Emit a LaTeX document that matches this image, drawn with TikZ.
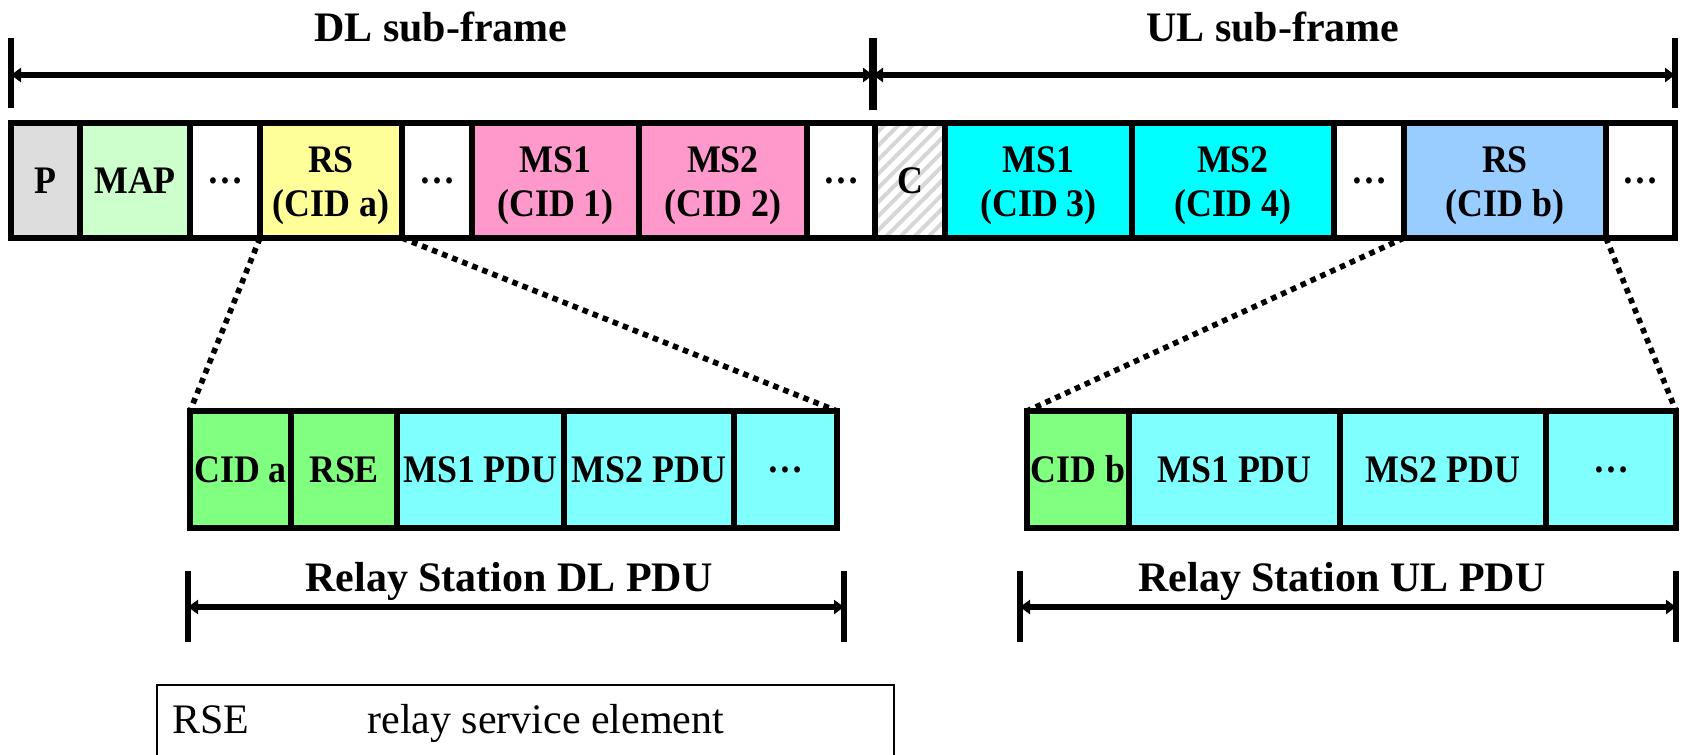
\documentclass[tikz,border=0pt]{standalone}
\usepackage{fontspec}
\setmainfont{Liberation Serif}
\newfontfamily\condserif[FakeStretch=0.92]{Liberation Serif}
\usetikzlibrary{arrows.meta,patterns.meta}

\definecolor{pcol}{HTML}{DDDDDD}
\definecolor{mapcol}{HTML}{CCFFCC}
\definecolor{rsacol}{HTML}{FFFF99}
\definecolor{dlmscol}{HTML}{FF99CC}
\definecolor{ulmscol}{HTML}{00FFFF}
\definecolor{rsbcol}{HTML}{99CCFF}
\definecolor{hdrcol}{HTML}{80FF80}
\definecolor{pducol}{HTML}{80FFFF}
\definecolor{hatchcol}{HTML}{D6D6D6}

\newcommand\mycellfont{\condserif\fontsize{19.5}{22}\selectfont\bfseries}
\newcommand\mytitlefont{\fontsize{21}{24}\selectfont\bfseries}
\newcommand\mylegfont{\fontsize{21}{24}\selectfont}
% taller first line so two-line labels sit a little lower in their cell
\newcommand\twolines[2]{\rule{0pt}{18pt}#1\\#2}

% one cell of a frame: name, x1, x2, y1, y2 (pixel units), style, text
\newcommand\fcell[7]{%
  \node[cellbox,#6,minimum width={(#3-(#2))*0.5pt},minimum height={(#5-(#4))*0.5pt}]
    (#1) at ({(#2+#3)/2},{(#4+#5)/2}) {#7};}

\begin{document}
\begin{tikzpicture}[x=0.5pt,y=-0.5pt,
  cellbox/.style={draw=black,line width=2.8pt,inner sep=0pt,outer sep=0pt,
                  align=center,font=\mycellfont},
  dimline/.style={line width=3.2pt,
                  {Triangle[length=5pt,width=7pt]}-{Triangle[length=5pt,width=7pt]}},
  tickline/.style={line width=2.8pt},
  dotline/.style={line width=2.8pt,dash pattern=on 2.8pt off 2.6pt},
  title/.style={font=\mytitlefont,inner sep=0pt,anchor=base},
  legtext/.style={font=\mylegfont,inner sep=0pt,anchor=base west}]

\useasboundingbox (0,0) rectangle (1683,755);
\clip (0,0) rectangle (1683,755);

% ---------- sub-frame dimension lines ----------
\coordinate (dlL) at (11,75);
\coordinate (dlR) at (873,75);
\coordinate (ulL) at (873,75);
\coordinate (ulR) at (1675,75);
\draw[tickline] (11,38) -- (11,108);
\draw[tickline,line width=3.8pt] (873,38) -- (873,110);
\draw[tickline] (1675,38) -- (1675,108);
\draw[dimline] (dlL) -- (dlR);
\draw[dimline] (ulL) -- (ulR);
\node[title] (dltitle) at (441,41) {DL sub-frame};
\node[title] (ultitle) at (1273,41) {UL sub-frame};

% ---------- frame ----------
\fcell{p}{11}{80}{123}{238}{fill=pcol}{P}
\fcell{map}{80}{190}{123}{238}{fill=mapcol}{MAP}
\fcell{dl1}{190}{260}{123}{238}{fill=white}{…}
\fcell{rsa}{260}{402}{123}{238}{fill=rsacol}{\twolines{RS}{(CID a)}}
\fcell{dl2}{402}{472}{123}{238}{fill=white}{…}
\fcell{ms1}{472}{639}{123}{238}{fill=dlmscol}{\twolines{MS1}{(CID 1)}}
\fcell{ms2}{639}{807}{123}{238}{fill=dlmscol}{\twolines{MS2}{(CID 2)}}
\fcell{dl3}{807}{875}{123}{238}{fill=white}{…}
\fcell{c}{875}{945}{123}{238}{fill=white,pattern={Lines[angle=45,distance=5pt,line width=2pt]},pattern color=hatchcol}{C}
\fcell{ms3}{945}{1132}{123}{238}{fill=ulmscol}{\twolines{MS1}{(CID 3)}}
\fcell{ms4}{1132}{1334}{123}{238}{fill=ulmscol}{\twolines{MS2}{(CID 4)}}
\fcell{ul1}{1334}{1404}{123}{238}{fill=white}{…}
\fcell{rsb}{1404}{1606}{123}{238}{fill=rsbcol}{\twolines{RS}{(CID b)}}
\fcell{ul2}{1606}{1675}{123}{238}{fill=white}{…}

% ---------- relay station DL PDU ----------
\fcell{dcida}{190}{291}{411}{528}{fill=hdrcol}{CID a}
\fcell{drse}{291}{397}{411}{528}{fill=hdrcol}{RSE}
\fcell{dms1}{397}{564}{411}{528}{fill=pducol}{MS1 PDU}
\fcell{dms2}{564}{734}{411}{528}{fill=pducol}{MS2 PDU}
\fcell{dmore}{734}{837}{411}{528}{fill=pducol}{…}

% ---------- relay station UL PDU ----------
\fcell{ucidb}{1027}{1129}{411}{528}{fill=hdrcol}{CID b}
\fcell{ums1}{1129}{1340}{411}{528}{fill=pducol}{MS1 PDU}
\fcell{ums2}{1340}{1546}{411}{528}{fill=pducol}{MS2 PDU}
\fcell{umore}{1546}{1676}{411}{528}{fill=pducol}{…}

% ---------- zoom lines ----------
\draw[dotline] (rsa.south west) -- (dcida.north west);
\draw[dotline] (rsa.south east) -- (dmore.north east);
\draw[dotline] (rsb.south west) -- (ucidb.north west);
\draw[dotline] (rsb.south east) -- (umore.north east);

% ---------- PDU dimension lines ----------
\coordinate (rdlL) at (188,607);
\coordinate (rdlR) at (844,607);
\coordinate (rulL) at (1020,607);
\coordinate (rulR) at (1676,607);
\draw[tickline] (188,571) -- (188,642);
\draw[tickline] (844,571) -- (844,642);
\draw[tickline] (1020,571) -- (1020,642);
\draw[tickline] (1676,571) -- (1676,642);
\draw[dimline] (rdlL) -- (rdlR);
\draw[dimline] (rulL) -- (rulR);
\node[title] (rdltitle) at (509,591) {Relay Station DL PDU};
\node[title] (rultitle) at (1342,591) {Relay Station UL PDU};

% ---------- legend ----------
\node[draw=black,line width=1pt,inner sep=0pt,outer sep=0pt,anchor=north west,
      minimum width=368.5pt,minimum height=60pt] (legend) at (157,685) {};
\node[legtext] (legabbr) at (172,733) {RSE};
\node[legtext] (legdesc) at (367,733) {relay service element};

\end{tikzpicture}
\end{document}
